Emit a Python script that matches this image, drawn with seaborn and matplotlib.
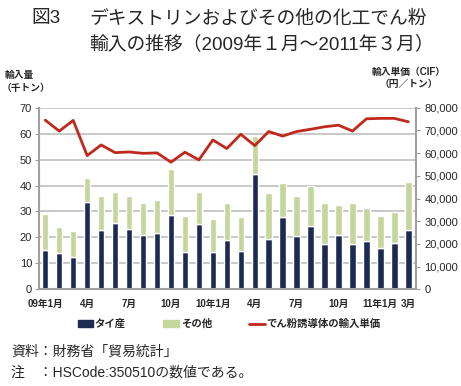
import numpy as np
import matplotlib
matplotlib.use("Agg")
import matplotlib.pyplot as plt
import matplotlib.ticker as mticker
from matplotlib.patches import Patch
from matplotlib.lines import Line2D
import seaborn as sns

# data (Jan 2009 - Mar 2011, monthly)
months = list(range(27))
thai = [15.2, 14.0, 12.5, 33.7, 22.7, 25.6, 23.1, 20.8, 21.7, 28.6, 14.4, 25.2, 14.4, 19.1,
        14.9, 44.3, 19.3, 27.7, 20.5, 24.3, 17.6, 20.8, 17.3, 18.6, 15.8, 18.0, 22.7]
other = [13.8, 10.1, 10.1, 9.3, 13.3, 12.0, 12.7, 12.5, 12.6, 17.6, 13.7, 12.2, 12.8, 14.0,
         13.0, 14.7, 17.8, 13.1, 15.5, 15.7, 15.8, 11.7, 16.0, 12.6, 12.3, 11.7, 18.8]
price = [74500, 69700, 74400, 58900, 63600, 60200, 60500, 59900, 60100, 56000, 60400, 57000,
         65800, 62000, 68300, 63300, 69500, 67500, 69500, 70500, 71600, 72300, 69700, 75100,
         75300, 75300, 73800]
label_pos = [0, 3, 6, 9, 12, 15, 18, 21, 24, 26]
label_txt = ["09年1月", "4月", "7月", "10月", "10年1月", "4月", "7月", "10月", "11年1月", "3月"]

navy = "#1d2a52"
green = "#c3d69b"
red = "#c0281c"
grey = "#a0a0a0"

sns.set_style("white")
plt.rcParams['font.family'] = ['Liberation Sans', 'Noto Sans CJK JP']

fig = plt.figure(figsize=(4.61, 3.86), dpi=100)
ax = fig.add_axes([0.0846, 0.2505, 0.8178, 0.4705])

sns.barplot(x=months, y=thai, color=navy, width=0.46, saturation=1, ax=ax)
sns.barplot(x=months, y=other, bottom=np.array(thai), color=green, width=0.46,
            saturation=1, ax=ax)

ax.set_xlim(-0.45, 26.55)
ax.set_ylim(0, 70)
ax.set_yticks(range(0, 71, 10))
ax.yaxis.grid(True, color="#c4c4c4", lw=1.3)
ax.set_axisbelow(True)
ax.set_xticks(label_pos)
ax.set_xticklabels(label_txt, fontsize=7, fontweight="bold")
ax.set_xticks(np.arange(-0.5, 27, 1), minor=True)
ax.tick_params(axis="x", which="major", length=0, pad=7)
ax.tick_params(axis="x", which="minor", length=3, color=grey, width=1)
ax.tick_params(axis="y", length=3, color=grey, labelsize=8, pad=2, left=True)
ax.set_xlabel("")
ax.set_ylabel("")
for s in ["top", "right"]:
    ax.spines[s].set_visible(False)
for s in ["left", "bottom"]:
    ax.spines[s].set_color(grey)
    ax.spines[s].set_linewidth(1.5)

ax2 = ax.twinx()
sns.lineplot(x=months, y=price, color=red, lw=2, ax=ax2)
ax2.set_ylim(0, 80000)
ax2.set_yticks(range(0, 80001, 10000))
ax2.yaxis.set_major_formatter(mticker.FuncFormatter(lambda v, p: f"{int(v):,}"))
ax2.tick_params(axis="y", length=3, color=grey, labelsize=8, pad=3, right=True)
ax2.set_ylabel("")
ax2.grid(False)
for s in ["top", "left", "bottom"]:
    ax2.spines[s].set_visible(False)
ax2.spines["right"].set_color(grey)
ax2.spines["right"].set_linewidth(1.5)
ax2.set_xlim(-0.45, 26.55)

# titles and notes
W, H = 461, 386
def fx(px): return px / W
def fy(py): return 1 - py / H

fig.text(fx(31), fy(19), "図3", fontsize=13.5, va="center", ha="left")
fig.text(fx(89), fy(19), "デキストリンおよびその他の化工でん粉", fontsize=13.5,
         va="center", ha="left")
fig.text(fx(89), fy(44), "輸入の推移（2009年１月～2011年３月）", fontsize=13.5,
         va="center", ha="left")

fig.text(fx(5), fy(75), "輸入量", fontsize=7, fontweight="bold", va="center")
fig.text(fx(2), fy(88), "（千トン）", fontsize=7, fontweight="bold", va="center")
fig.text(fx(409), fy(72), "輸入単価（CIF）", fontsize=7, fontweight="bold",
         va="center", ha="center")
fig.text(fx(409), fy(84), "（円／トン）", fontsize=7, fontweight="bold",
         va="center", ha="center")

handles = [Patch(color=navy), Patch(color=green), Line2D([], [], color=red, lw=2)]
fig.legend(handles, ["タイ産", "その他", "でん粉誘導体の輸入単価"], loc="center",
           bbox_to_anchor=(fx(229), fy(324)), ncol=3, frameon=False,
           prop={"size": 7.5, "weight": "bold"}, handlelength=1.5, handleheight=0.6,
           handletextpad=0.15, columnspacing=3.6)

fig.text(fx(11), fy(352), "資料：財務省「貿易統計」", fontsize=10, va="center")
fig.text(fx(11), fy(373), "注　：HSCode:350510の数値である。", fontsize=10, va="center")

fig.savefig("out.png", dpi=100)
